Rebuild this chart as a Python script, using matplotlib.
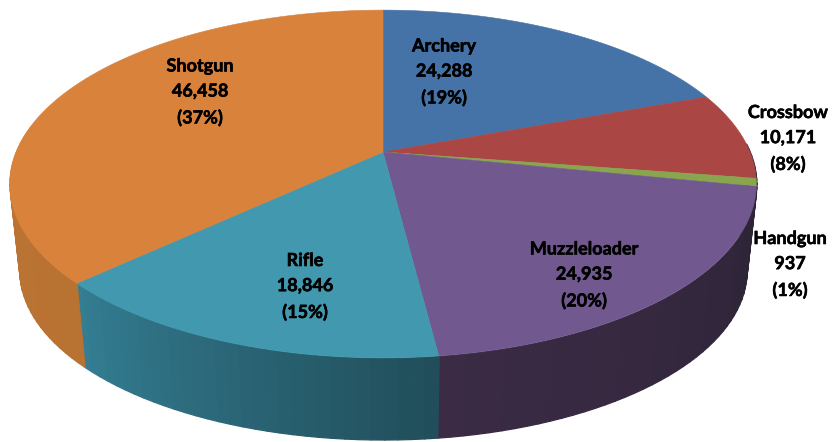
import numpy as np
import matplotlib
matplotlib.use("Agg")
import matplotlib.pyplot as plt
import matplotlib.patheffects as pe
from matplotlib.collections import PolyCollection
from matplotlib.colors import to_rgb

categories = ["Archery", "Crossbow", "Handgun", "Muzzleloader", "Rifle", "Shotgun"]
values = [24288, 10171, 937, 24935, 18846, 46458]
top_colors = ["#4573A7", "#AA4643", "#89A54E", "#71588F", "#4198AF", "#D9823C"]
side_right = ["#2D2437", "#2D2437", "#2D2437", "#2D2437", "#214E5A", "#B87232"]
side_left = ["#2D2437", "#2D2437", "#2D2437", "#3B2B45", "#347D92", "#BC7434"]
label_xy = [(444, 72), (788, 138.5), (790, 264.5), (584, 275), (305, 286.5), (200, 92)]

W, H = 832, 442
CX, CY = 383, 152          # apex of the top face (pixels)
RX, RY, K = 367, 168, 0.184  # perspective projection of the disc
BOT_CY, BOT_S = 239, 0.974   # lower rim of the pie


def project(theta, cy=CY, s=1.0):
    w = 1 + K * np.sin(theta)
    return CX + s * RX * np.cos(theta) / w, cy - s * RY * np.sin(theta) / w


fig = plt.figure(figsize=(W / 100, H / 100), dpi=100)
ax = fig.add_axes([0, 0, 1, 1])
ax.set_xlim(0, W)
ax.set_ylim(H, 0)
ax.axis("off")

shares = np.array(values, dtype=float) / np.sum(values)
edges = np.pi / 2 - 2 * np.pi * np.concatenate([[0], np.cumsum(shares)])

# Side wall: only the near half of the disc is visible. Strips are painted in
# order with a thin same-colour edge, so no seams show between them.
for i in range(len(values)):
    a0, a1 = edges[i], edges[i + 1]
    lo, hi = max(a1, -np.pi - 0.15), min(a0, 0.05)
    if a0 < -np.pi - 0.15 or hi <= lo:
        continue
    n = max(2, int((hi - lo) / 0.03))
    t = np.linspace(lo, hi, n + 1)     # left to right
    x0, y0 = project(t)
    x1, y1 = project(t, BOT_CY, BOT_S)
    cl, cr = np.array(to_rgb(side_left[i])), np.array(to_rgb(side_right[i]))
    for j in range(n):
        poly = [(x0[j], y0[j]), (x0[j + 1], y0[j + 1]),
                (x1[j + 1], y1[j + 1]), (x1[j], y1[j])]
        col = cl + (cr - cl) * j / max(n - 1, 1)
        ax.add_collection(PolyCollection([poly], facecolors=[col], edgecolors=[col],
                                         linewidths=0.9, zorder=1))

# Top face
for i, col in enumerate(top_colors):
    t = np.linspace(edges[i], edges[i + 1], 200)
    x, y = project(t)
    ax.fill(np.r_[CX, x], np.r_[CY, y], color=col, lw=0.4, zorder=2)

# Labels
for name, v, s, (lx, ly) in zip(categories, values, shares, label_xy):
    ax.text(lx, ly, f"{name}\n{v:,}\n({s * 100:.0f}%)", ha="center", va="center",
            family="Lato", weight="bold", fontsize=13, color="black",
            linespacing=1.58, zorder=3,
            path_effects=[pe.withStroke(linewidth=0.4, foreground="black")])

fig.savefig("out.png", dpi=100, facecolor="white")
